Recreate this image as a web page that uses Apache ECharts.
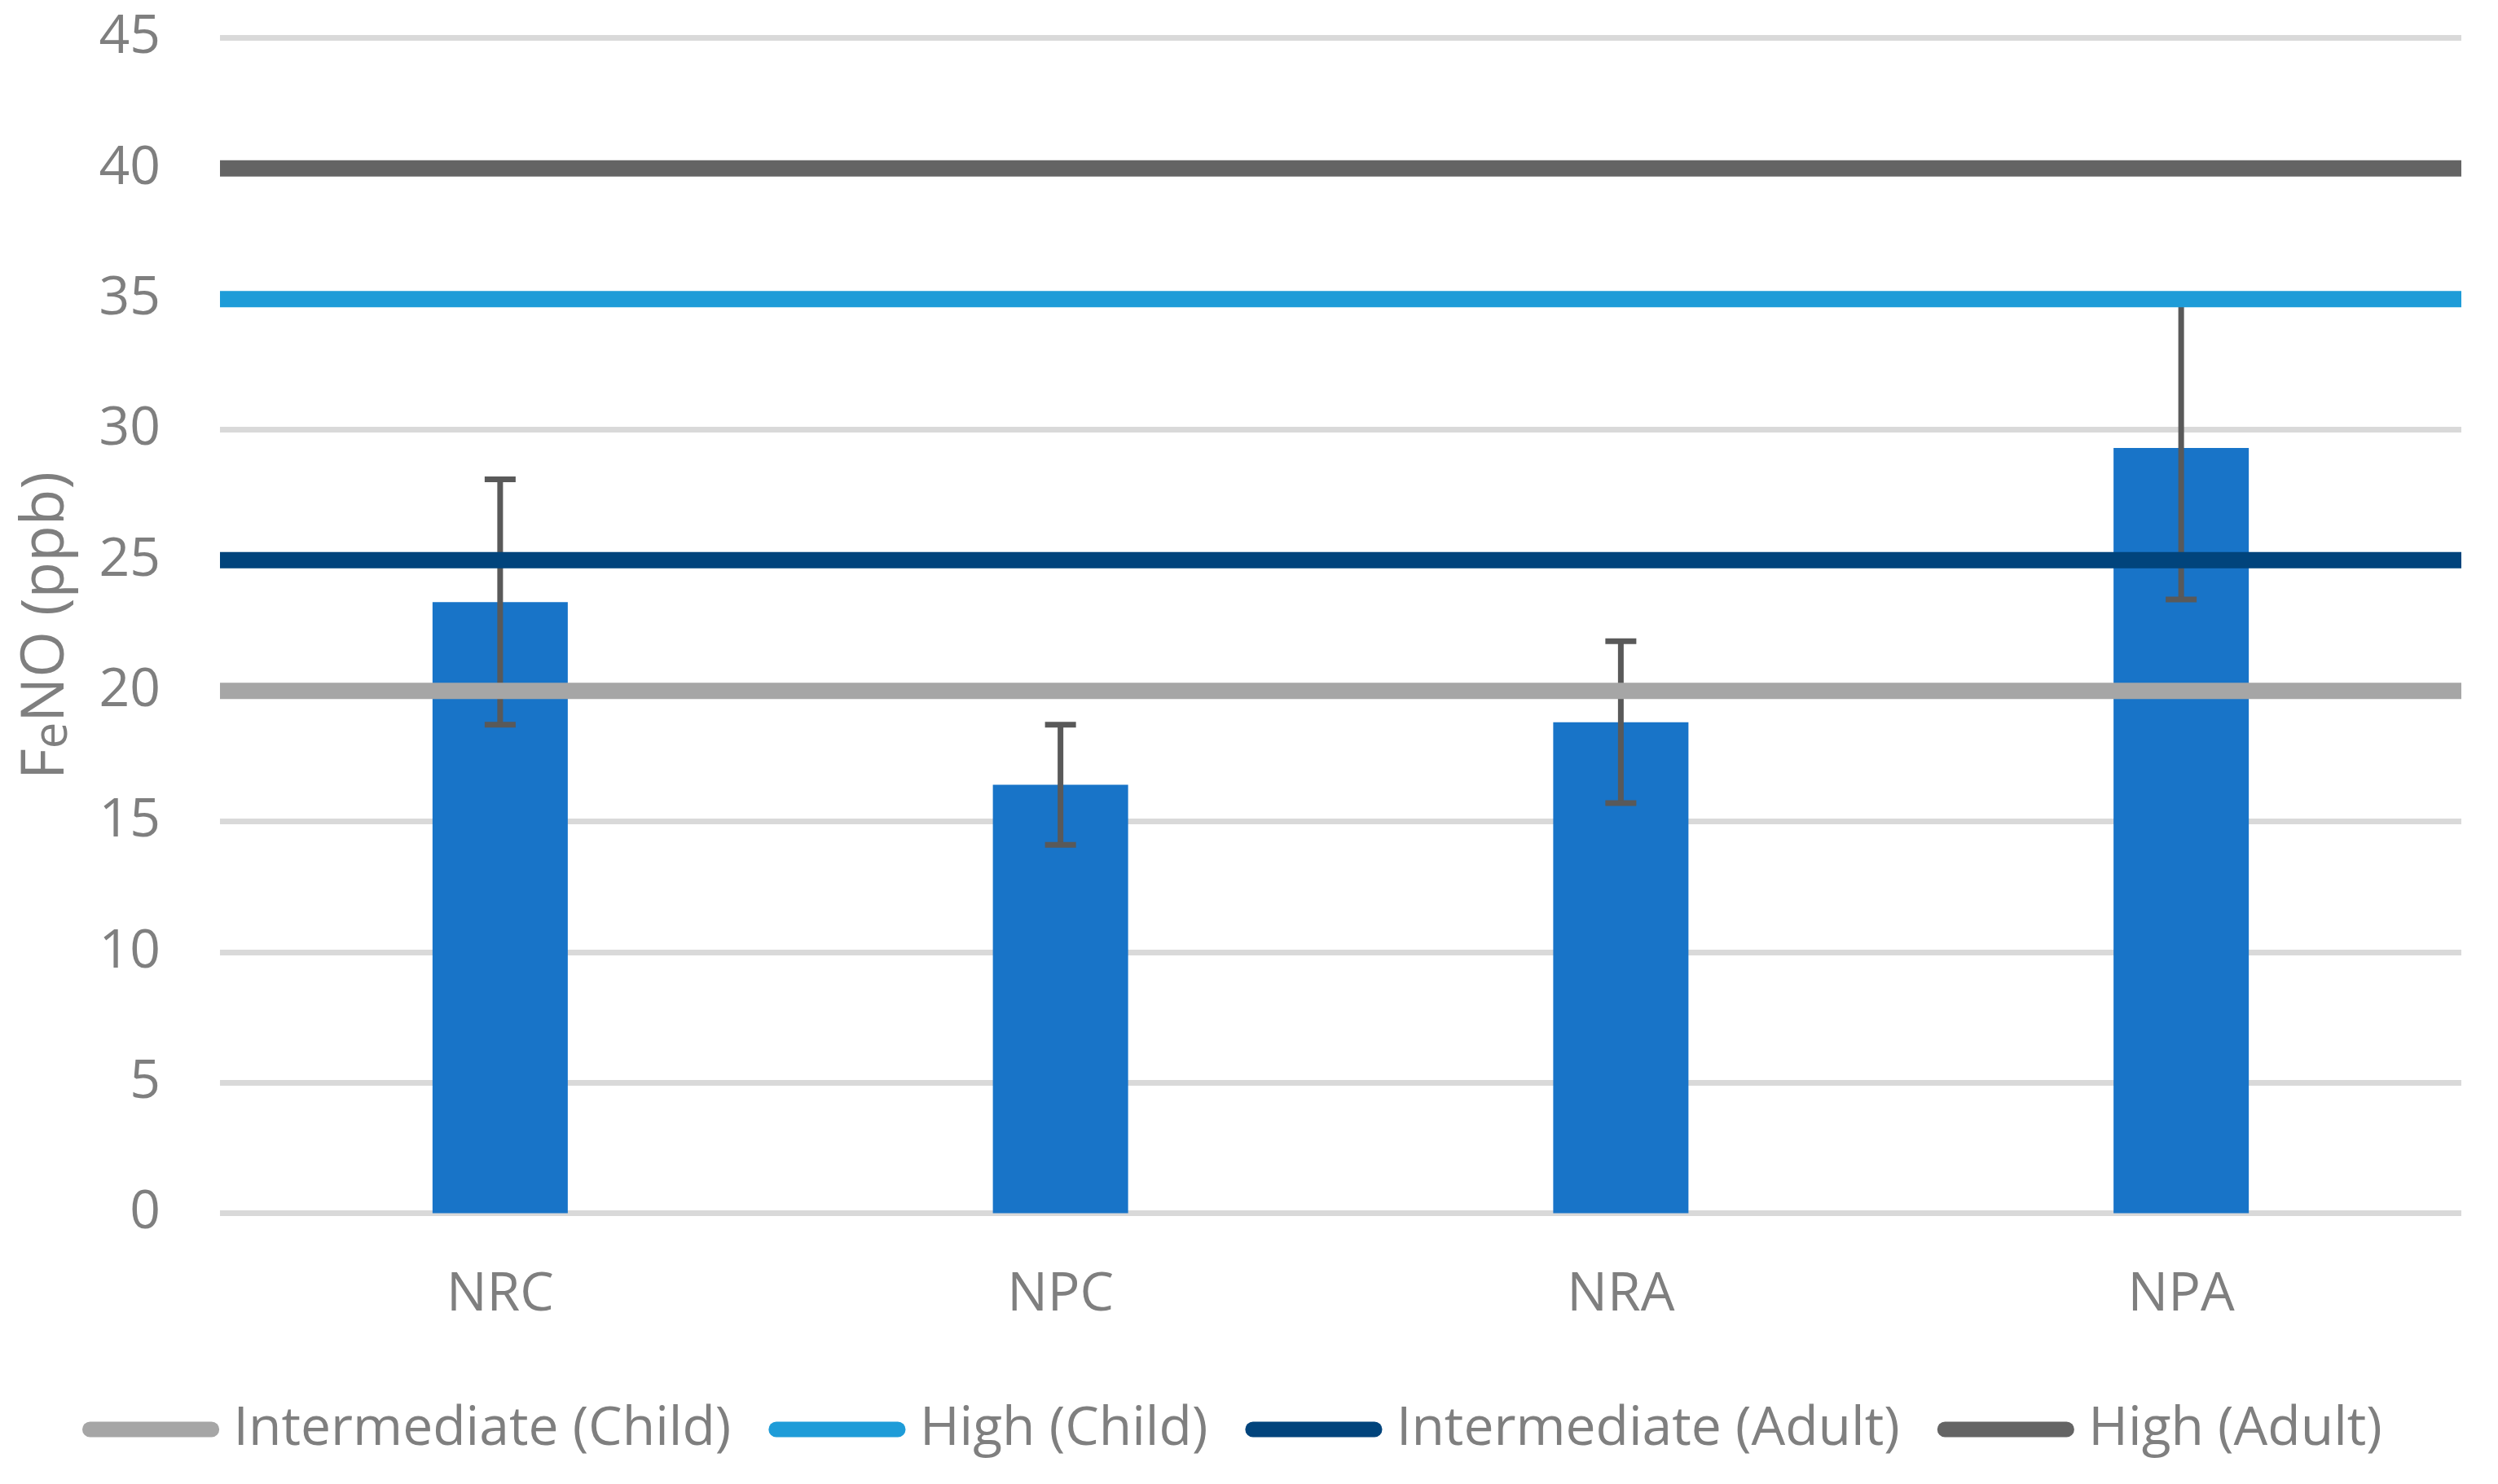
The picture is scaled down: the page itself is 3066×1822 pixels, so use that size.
<!DOCTYPE html>
<html>
<head>
<meta charset="utf-8">
<script src="https://cdn.jsdelivr.net/npm/echarts@6/dist/echarts.min.js"></script>
<style>
html,body{margin:0;padding:0;background:#fff;}
#chart{width:3066px;height:1822px;}
</style>
</head>
<body>
<div id="chart"></div>
<script>
const categories = ['NRC', 'NPC', 'NRA', 'NPA'];
const meanValues = [23.4, 16.4, 18.8, 29.3];
const errorValues = [4.7, 2.3, 3.1, 5.8];
const intermediateChild = [20, 20, 20, 20];
const highChild = [35, 35, 35, 35];
const intermediateAdult = [25, 25, 25, 25];
const highAdult = [40, 40, 40, 40];
const yTicks = { min: 0, max: 45, interval: 5 };

const FONT = '"Open Sans", "Noto Sans", sans-serif';
const TEXT = '#7F7F7F';

const errorData = categories.map((c, i) => [i, meanValues[i] - errorValues[i], meanValues[i] + errorValues[i]]);

function lineSeries(name, data, color) {
  return {
    name: name,
    type: 'line',
    xAxisIndex: 1,
    data: data,
    symbol: 'none',
    z: 5,
    lineStyle: { color: color, width: 20 },
    itemStyle: { color: color },
    emphasis: { disabled: true },
    animation: false
  };
}

const capsule = 'path://M10,0 L167,0 A10,10 0 0 1 167,20 L10,20 A10,10 0 0 1 10,0 Z';

const option = {
  animation: false,
  backgroundColor: '#ffffff',
  textStyle: { fontFamily: FONT },
  grid: { left: 270, right: 45, top: 46.5, bottom: 332.5, containLabel: false },
  legend: {
    left: 96,
    top: 1717,
    icon: capsule,
    itemWidth: 177,
    itemHeight: 19,
    itemGap: 46,
    data: ['Intermediate (Child)', 'High (Child)', 'Intermediate (Adult)', 'High (Adult)'],
    textStyle: { color: TEXT, fontSize: 66, fontFamily: FONT, padding: [0, 0, 0, 8] }
  },
  xAxis: [
    {
      type: 'category',
      data: categories,
      axisLine: { show: false },
      axisTick: { show: false },
      axisLabel: { color: TEXT, fontSize: 66, fontFamily: FONT, margin: 68 }
    },
    {
      type: 'category',
      data: categories,
      boundaryGap: false,
      show: false
    }
  ],
  yAxis: {
    type: 'value',
    min: yTicks.min,
    max: yTicks.max,
    interval: yTicks.interval,
    name: '{a|F}{b|e}{a|NO (ppb)}',
    nameLocation: 'middle',
    nameRotate: 90,
    nameGap: 176,
    nameTextStyle: {
      color: TEXT,
      fontFamily: FONT,
      rich: {
        a: { fontSize: 73, color: TEXT, fontFamily: FONT },
        b: { fontSize: 58, color: TEXT, fontFamily: FONT, verticalAlign: 'bottom' }
      }
    },
    axisLine: { show: false },
    axisTick: { show: false },
    splitLine: { lineStyle: { color: '#D9D9D9', width: 7 } },
    axisLabel: { color: TEXT, fontSize: 66, fontFamily: FONT, margin: 73 }
  },
  series: [
    {
      name: 'FeNO',
      type: 'bar',
      data: meanValues,
      barWidth: 166,
      z: 2,
      itemStyle: { color: '#1874C8' },
      emphasis: { disabled: true }
    },
    {
      name: 'Error',
      type: 'custom',
      z: 3,
      data: errorData,
      encode: { x: 0, y: [1, 2] },
      renderItem: function (params, api) {
        const x = api.value(0);
        const lo = api.coord([x, api.value(1)]);
        const hi = api.coord([x, api.value(2)]);
        const half = 19;
        const style = { stroke: '#595959', lineWidth: 7, fill: null };
        return {
          type: 'group',
          children: [
            { type: 'line', shape: { x1: lo[0], y1: lo[1], x2: hi[0], y2: hi[1] }, style: style },
            { type: 'line', shape: { x1: lo[0] - half, y1: lo[1], x2: lo[0] + half, y2: lo[1] }, style: style },
            { type: 'line', shape: { x1: hi[0] - half, y1: hi[1], x2: hi[0] + half, y2: hi[1] }, style: style }
          ]
        };
      }
    },
    lineSeries('Intermediate (Child)', intermediateChild, '#A6A6A6'),
    lineSeries('High (Child)', highChild, '#1E9CD8'),
    lineSeries('Intermediate (Adult)', intermediateAdult, '#01447C'),
    lineSeries('High (Adult)', highAdult, '#646464')
  ]
};

const chart = echarts.init(document.getElementById('chart'), null, { renderer: 'canvas' });
chart.setOption(option);
</script>
</body>
</html>
